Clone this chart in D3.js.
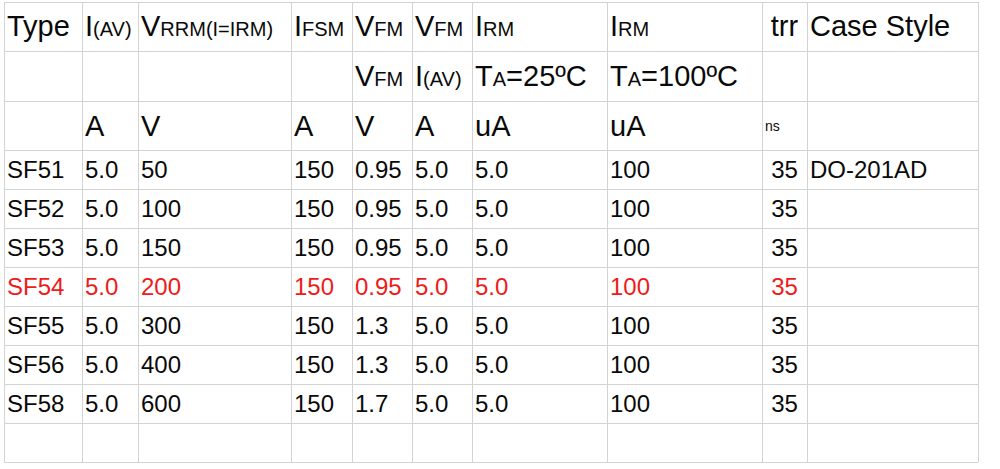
<!DOCTYPE html>
<meta charset="utf-8">
<head>
<style>
body { margin: 0; background: #fff; }
text { font-family: "Liberation Sans", Arial, sans-serif; }
</style>
</head>
<body>
<script src="https://cdnjs.cloudflare.com/ajax/libs/d3/7.8.5/d3.min.js"></script>
<script>
//---------------------------- DATA ----------------------------//
// header cells: each one is a list of [text, "L"|"S"] pieces (L = big, S = small)
var headerRow1 = [
  [["Type","L"]],
  [["I","L"],["(AV)","S"]],
  [["V","L"],["RRM(I=IRM)","S"]],
  [["I","L"],["FSM","S"]],
  [["V","L"],["FM","S"]],
  [["V","L"],["FM","S"]],
  [["I","L"],["RM","S"]],
  [["I","L"],["RM","S"]],
  [["trr","L"]],
  [["Case Style","L"]]
];
var headerRow2 = [
  [], [], [], [],
  [["V","L"],["FM","S"]],
  [["I","L"],["(AV)","S"]],
  [["T","L"],["A","S"],["=25ºC","L"]],
  [["T","L"],["A","S"],["=100ºC","L"]],
  [], []
];
var unitRow = ["", "A", "V", "A", "V", "A", "uA", "uA", "ns", ""];

var types     = ["SF51","SF52","SF53","SF54","SF55","SF56","SF58"];
var iAV       = ["5.0","5.0","5.0","5.0","5.0","5.0","5.0"];
var vRRM      = ["50","100","150","200","300","400","600"];
var iFSM      = ["150","150","150","150","150","150","150"];
var vFM       = ["0.95","0.95","0.95","0.95","1.3","1.3","1.7"];
var vfmAtI    = ["5.0","5.0","5.0","5.0","5.0","5.0","5.0"];
var iRM25     = ["5.0","5.0","5.0","5.0","5.0","5.0","5.0"];
var iRM100    = ["100","100","100","100","100","100","100"];
var trr       = ["35","35","35","35","35","35","35"];
var caseStyle = ["DO-201AD","","","","","",""];
var highlighted = "SF54";

//--------------------------- LAYOUT ---------------------------//
var width = 1000, height = 469;
var colEdges = [4, 82, 138, 291, 352, 412, 472, 607, 762, 807, 978];
var rowEdges = [2, 51, 101, 150, 189, 228, 267, 306, 345, 384, 423, 462];
var pad = 3;
var bigSize = 29, smallSize = 20, dataSize = 24;
var trrCol = 8;

var svg = d3.select("body").append("svg")
    .attr("width", width)
    .attr("height", height);

var colX = d3.scaleOrdinal().domain(d3.range(colEdges.length)).range(colEdges);
var rowY = d3.scaleOrdinal().domain(d3.range(rowEdges.length)).range(rowEdges);

//---------------------------- GRID ----------------------------//
var grid = svg.append("g").attr("stroke", "#d3d3d3").attr("stroke-width", 1);
grid.selectAll("line.h")
    .data(rowEdges)
    .enter().append("line")
    .attr("class", "h")
    .attr("x1", colEdges[0]).attr("x2", colEdges[colEdges.length - 1])
    .attr("y1", d => d + 0.5).attr("y2", d => d + 0.5);
grid.selectAll("line.v")
    .data(colEdges)
    .enter().append("line")
    .attr("class", "v")
    .attr("y1", rowEdges[0]).attr("y2", rowEdges[rowEdges.length - 1])
    .attr("x1", d => d + 0.5).attr("x2", d => d + 0.5);

//--------------------------- HEADER ---------------------------//
function drawRich(cells, row, baseOff) {
  var g = svg.append("g");
  cells.forEach(function(pieces, c) {
    if (!pieces.length) return;
    var centred = c === trrCol;
    var t = g.append("text")
        .attr("x", centred ? (colX(c) + colX(c + 1)) / 2 : colX(c) + pad)
        .attr("y", rowY(row + 1) - baseOff)
        .attr("text-anchor", centred ? "middle" : "start")
        .attr("fill", "#0a0a0a");
    t.selectAll("tspan")
      .data(pieces)
      .enter().append("tspan")
      .attr("font-size", d => d[1] === "L" ? bigSize : smallSize)
      .text(d => d[0]);
  });
}
drawRich(headerRow1, 0, 15);
drawRich(headerRow2, 1, 15);

svg.append("g").selectAll("text")
    .data(unitRow)
    .enter().append("text")
    .attr("x", (d, i) => colX(i) + pad)
    .attr("y", (d, i) => rowY(3) - (d === "ns" ? 19 : 14))
    .attr("font-size", d => d === "ns" ? "14px" : bigSize + "px")
    .attr("fill", "#0a0a0a")
    .text(d => d);

//---------------------------- BODY ----------------------------//
var columns = [types, iAV, vRRM, iFSM, vFM, vfmAtI, iRM25, iRM100, trr, caseStyle];
var rows = types.map((t, r) => columns.map(col => col[r]));

var body = svg.append("g").selectAll("g")
    .data(rows)
    .enter().append("g")
    .attr("fill", (d) => d[0] === highlighted ? "#ee1b1b" : "#0a0a0a");

body.selectAll("text")
    .data(d => d)
    .enter().append("text")
    .attr("x", (d, c) => c === trrCol ? (colX(c) + colX(c + 1)) / 2 : colX(c) + pad)
    .attr("text-anchor", (d, c) => c === trrCol ? "middle" : "start")
    .attr("y", function() {
      var r = rows.indexOf(d3.select(this.parentNode).datum());
      return rowY(r + 4) - 11;
    })
    .attr("font-size", dataSize)
    .text(d => d);
</script>
</body>
</html>
